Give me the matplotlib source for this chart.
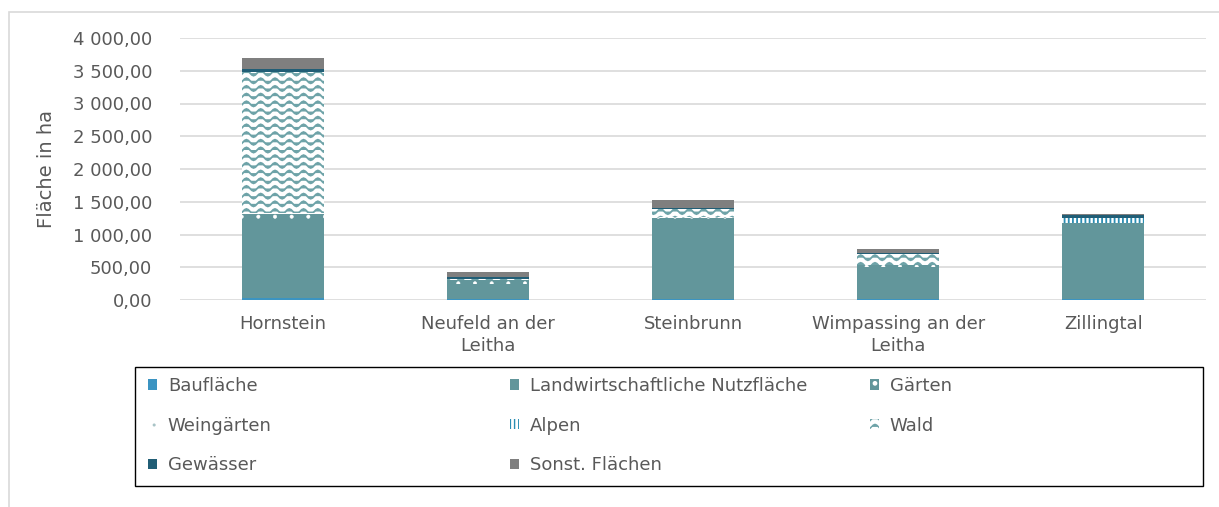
import warnings
import numpy as np
import matplotlib
matplotlib.use('Agg')
import matplotlib.pyplot as plt
from matplotlib import hatch as mhatch
from matplotlib.path import Path
from matplotlib.patches import Patch, Rectangle
from matplotlib.ticker import FuncFormatter

warnings.filterwarnings('ignore')

categories = ['Hornstein', 'Neufeld an der Leitha', 'Steinbrunn',
              'Wimpassing an der Leitha', 'Zillingtal']
series = ['Baufläche', 'Landwirtschaftliche Nutzfläche', 'Gärten', 'Weingärten',
          'Alpen', 'Wald', 'Gewässer', 'Sonst. Flächen']

# values in ha
baufl = [25, 12, 12, 10, 12]
landw = [1163, 239, 1138, 493, 1149]
gaerten = [120, 50, 100, 30, 20]
weing = [15, 10, 10, 5, 0]
alpen = [0, 0, 0, 0, 70]
wald = [2158, 15, 125, 160, 0]
gewaesser = [41, 30, 15, 15, 52]
sonst = [168, 76, 127, 61, 5]
yticks = [0, 500, 1000, 1500, 2000, 2500, 3000, 3500, 4000]

values = [baufl, landw, gaerten, weing, alpen, wald, gewaesser, sonst]

# (face, hatch colour, hatch, hatch linewidth)
styles = [
    ('#3b94c2', '#3b94c2', None, 1.0),
    ('#62969b', '#62969b', None, 1.0),
    ('#62969b', 'white', '.', 0.4),
    ('white', '#a9c4c7', '..', 0.8),
    ('white', '#2a8db3', '||||', 1.3),
    ('white', '#6ea3a8', '~~', 1.3),
    ('#215e76', '#215e76', None, 1.0),
    ('#7f7f7f', '#7f7f7f', None, 1.0),
]


class WaveHatch(mhatch.HatchPatternBase):
    # wavy lines for the Wald pattern, '~' in the hatch string
    def __init__(self, hatch, density):
        self.num_lines = int(hatch.count('~') * density * 1.1)
        self.steps = 56
        self.num_vertices = self.num_lines * (self.steps + 1)

    def set_vertices_and_codes(self, vertices, codes):
        n = self.steps + 1
        x = np.linspace(0, 1, n)
        for i in range(self.num_lines):
            y = (i + 0.5) / self.num_lines + 0.026 * np.sin(2 * np.pi * 7 * x)
            vertices[i * n:(i + 1) * n, 0] = x
            vertices[i * n:(i + 1) * n, 1] = y
            codes[i * n] = Path.MOVETO
            codes[i * n + 1:(i + 1) * n] = Path.LINETO


mhatch._hatch_types.append(WaveHatch)

plt.rcParams['font.family'] = ['DejaVu Sans']
grey = '#595959'
W, H = 1219, 507

fig = plt.figure(figsize=(W / 100, H / 100), dpi=100)
ax = fig.add_axes([180 / W, 1 - 300 / H, (1206 - 180) / W, (300 - 38) / H])

x = np.arange(len(categories))
bottom = np.zeros(len(categories))
handles = []
for name, vals, (fc, hc, ht, hlw) in zip(series, values, styles):
    vals = np.array(vals, dtype=float)
    with plt.rc_context({'hatch.linewidth': hlw}):
        ax.bar(x, vals, 0.4, bottom=bottom, color=fc, edgecolor=hc, hatch=ht,
               linewidth=0)
        handles.append(Patch(facecolor=fc, edgecolor=hc, hatch=ht, linewidth=0,
                             label=name))
    bottom += vals

ax.set_xlim(-0.5, len(categories) - 0.5)
ax.set_ylim(0, 4000)
ax.set_yticks(yticks)
ax.yaxis.set_major_formatter(FuncFormatter(
    lambda v, p: f'{v:,.2f}'.replace(',', ' ').replace('.', ',')))
ax.set_xticks(x)
ax.set_xticklabels([c.replace(' Leitha', '\nLeitha') for c in categories],
                   linespacing=1.25)
ax.tick_params(axis='both', length=0, colors=grey, labelsize=13)
ax.tick_params(axis='y', pad=20)
ax.tick_params(axis='x', pad=11)
for s in ax.spines.values():
    s.set_visible(False)
ax.yaxis.grid(True, color='#d9d9d9', linewidth=1.2)
ax.set_axisbelow(True)
ax.set_ylabel('Fläche in ha', fontsize=14, color=grey)
ax.yaxis.set_label_coords(-0.121, 0.5)

# legend: three columns of equal width, like the original
cols = [[0, 3, 6], [1, 4, 7], [2, 5]]
col_x = [148, 510, 870]
for idx, cx in zip(cols, col_x):
    fig.legend(handles=[handles[i] for i in idx], loc='upper left',
               bbox_to_anchor=(cx / W, 1 - 377 / H), frameon=False, fontsize=13,
               handlelength=0.5, handleheight=0.5, handletextpad=0.6,
               labelspacing=1.2, borderpad=0, borderaxespad=0, labelcolor=grey)

fig.add_artist(Rectangle((135 / W, 1 - 486 / H), (1203 - 135) / W, 119 / H,
                         transform=fig.transFigure, fill=False,
                         edgecolor='black', linewidth=1.0))
fig.add_artist(Rectangle((9 / W, -0.05), 1.0, 1.05 - 12 / H,
                         transform=fig.transFigure, fill=False,
                         edgecolor='#d9d9d9', linewidth=1.2))

fig.savefig('out.png', dpi=100)
